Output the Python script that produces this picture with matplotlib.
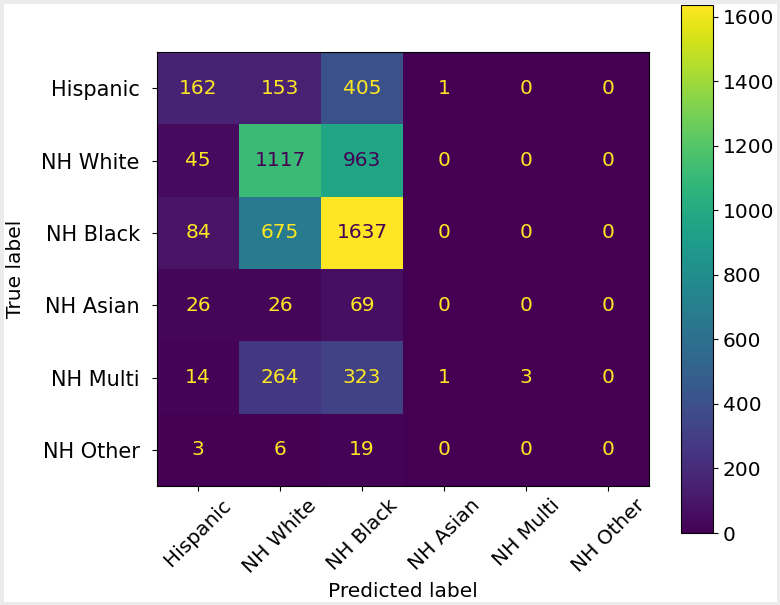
import numpy as np
import matplotlib
matplotlib.use("Agg")
import matplotlib.pyplot as plt
from matplotlib.patches import Rectangle

# ===== data =====
labels = ["Hispanic", "NH White", "NH Black", "NH Asian", "NH Multi", "NH Other"]
row_hispanic = [162, 153, 405, 1, 0, 0]
row_white = [45, 1117, 963, 0, 0, 0]
row_black = [84, 675, 1637, 0, 0, 0]
row_asian = [26, 26, 69, 0, 0, 0]
row_multi = [14, 264, 323, 1, 3, 0]
row_other = [3, 6, 19, 0, 0, 0]

cm = np.array([row_hispanic, row_white, row_black, row_asian, row_multi, row_other])

FS = 14.5

fig = plt.figure(figsize=(7.8, 6.05), dpi=100)
ax = fig.add_axes([0.2013, 0.1967, 0.631, 0.717])
cax = fig.add_axes([0.873, 0.119, 0.041, 0.873])

cmap = plt.get_cmap("viridis")
im = ax.imshow(cm, cmap=cmap, interpolation="nearest", aspect="auto")

# 文字颜色：和 sklearn 一样按阈值切换
thresh = (cm.max() + cm.min()) / 2.0
for i in range(cm.shape[0]):
    for j in range(cm.shape[1]):
        c = cmap(0) if cm[i, j] > thresh else cmap(1.0)
        ax.text(j, i, str(cm[i, j]), ha="center", va="center", color=c, fontsize=FS)

ax.set_xticks(range(len(labels)))
ax.set_yticks(range(len(labels)))
ax.set_xticklabels(labels, rotation=45, ha="center", fontsize=FS)
ax.set_yticklabels(labels, fontsize=15)
ax.tick_params(axis="y", pad=9)
ax.set_xlabel("Predicted label", fontsize=FS, labelpad=4)
ax.set_ylabel("True label", fontsize=FS, labelpad=12)

cb = fig.colorbar(im, cax=cax)
cb.set_ticks([0, 200, 400, 600, 800, 1000, 1200, 1400, 1600])
cb.ax.tick_params(labelsize=FS)

# 外框（浅灰）
fig.patches.append(Rectangle((0, 0), 1, 1, transform=fig.transFigure,
                             fill=False, edgecolor="#ebebeb", linewidth=5))

fig.savefig("out.png", dpi=100)
